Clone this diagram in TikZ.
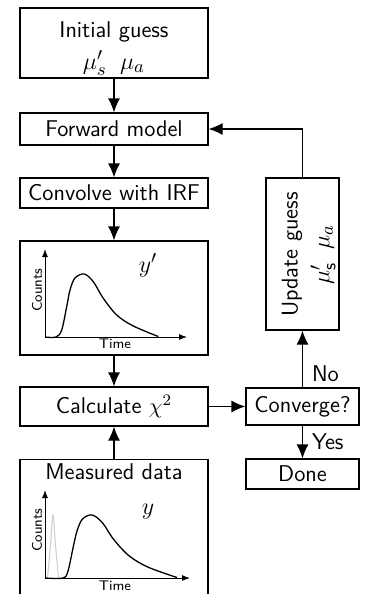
\documentclass[tikz,border=0pt]{standalone}
\usetikzlibrary{arrows.meta}
\begin{document}
\begin{tikzpicture}[x=0.5pt,y=-0.5pt,
  box/.style={draw, line width=0.6pt, rectangle, inner sep=0pt, font=\sffamily\fontsize{11.4}{15}\selectfont, align=center},
  flow/.style={-{Latex[length=7pt,width=6pt]}, line width=0.6pt},
  axis/.style={-{Latex[length=4pt,width=3pt]}, line width=0.5pt},
  small/.style={font=\sffamily\fontsize{7}{8}\selectfont, inner sep=0pt},
  lbl/.style={font=\sffamily\fontsize{11.4}{15}\selectfont, inner sep=0pt},
  mathlbl/.style={font=\fontsize{12.4}{15}\selectfont, inner sep=0pt},
  curve/.style={line width=0.65pt}]
\useasboundingbox (0,0) rectangle (364,594);
\clip (0,0) rectangle (364,594);
% boxes
\node[box, minimum width=94pt, minimum height=35pt] (init) at (114,43) {};
\node[lbl, anchor=base] (inittitle) at (114,37.5) {Initial guess};
\node[mathlbl] (initmath) at (114,63) {$\mu'_s\;\;\mu_a$};
\node[box, minimum width=94pt, minimum height=16pt] (fwd) at (114,129) {Forward model};
\node[box, minimum width=94pt, minimum height=15pt] (conv) at (114,193) {Convolve with IRF};
\node[box, minimum width=94pt, minimum height=57pt] (plot1) at (114,298) {};
\node[box, minimum width=94pt, minimum height=19.5pt] (calc) at (114,406.5) {Calculate $\chi^2$};
\node[box, minimum width=94pt, minimum height=69pt, anchor=north] (meas) at (114,459) {};
\node[lbl] (meastitle) at (114,472) {Measured data};
\node[box, minimum width=36.5pt, minimum height=76pt] (upd) at (302.5,254) {};
\node[lbl, rotate=90] (updtitle) at (292,254.5) {Update guess};
\node[mathlbl, rotate=90] (updmath) at (323,254.5) {$\mu'_{\mathsf{s}}\;\;\mu_a$};
\node[box, minimum width=56.5pt, minimum height=18.5pt] (cvg) at (302.5,406.5) {Converge?};
\node[box, minimum width=56.5pt, minimum height=15pt] (done) at (302.5,474) {Done};
% connectors
\draw[flow] (init) -- (fwd);
\draw[flow] (fwd) -- (conv);
\draw[flow] (conv) -- (plot1);
\draw[flow] (plot1) -- (calc);
\draw[flow] (meas.north) -- (calc.south);
\draw[flow] (calc) -- (cvg);
\draw[flow] (cvg.north) -- node[lbl, pos=0.25, right=4.5pt] (nolbl) {No} (upd.south);
\draw[flow] (cvg.south) -- node[lbl, pos=0.5, right=4.5pt] (yeslbl) {Yes} (done.north);
\draw[flow] (upd.north) |- (fwd.east);
% plot 1
\draw[axis] (45,337) -- (45,249);
\draw[axis] (45,337) -- (187,337);
\draw[curve] plot[smooth, tension=0.55] coordinates {(45,337) (56,337) (61.7,330) (66.7,306.7) (70,290) (75,278) (84.3,274) (93.3,281.7) (103.3,298.3) (116.7,315) (133.3,326) (158.3,336.5)};
\node[small, rotate=90] (cnt1) at (37,290) {Counts};
\node[small] (time1) at (115,344) {Time};
\node[mathlbl] (yp) at (148,265) {$y'$};
% plot 2
\draw[axis] (45,578) -- (45,490);
\draw[axis] (45,578) -- (190,578);
\draw[gray!40, line width=0.5pt] plot[smooth, tension=0.5] coordinates {(47.5,578) (50.5,545) (53,515) (55.5,545) (58.5,578)};
\draw[curve] plot[smooth, tension=0.55] coordinates {(45,578) (63,578) (68,571) (73,548) (77,531) (82.5,519) (92,515) (102.3,522.6) (113.8,539.6) (129.3,556) (148.4,567.3) (177,577.5)};
\node[small, rotate=90] (cnt2) at (37,530) {Counts};
\node[small] (time2) at (115,586) {Time};
\node[mathlbl] (ym) at (148,512) {$y$};
\end{tikzpicture}
\end{document}
